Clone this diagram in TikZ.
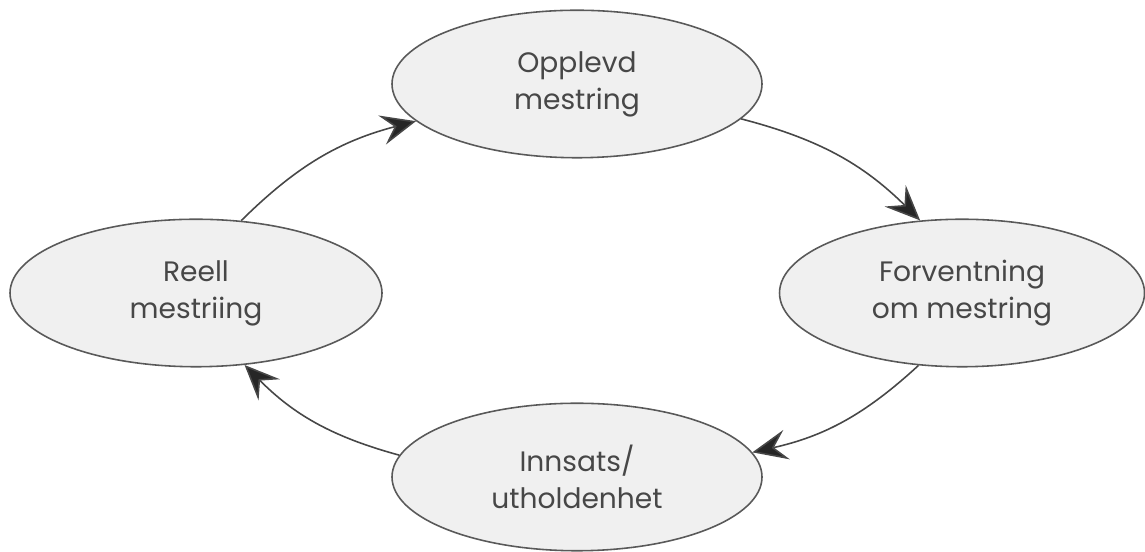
\documentclass[tikz,border=0pt]{standalone}
\usepackage{fontspec}
\setmainfont{Poppins}
\usetikzlibrary{shapes.geometric,arrows.meta}

\begin{document}
\begin{tikzpicture}[
  mestring/.style={ellipse, draw=black!65, line width=0.9pt, fill=black!6,
    inner sep=0pt, minimum width=7.4cm, minimum height=2.95cm,
    align=center, text=black!72, font=\fontsize{16}{21}\selectfont},
  pil/.style={draw=black!72, line width=0.9pt, bend left=15,
    -{Stealth[length=7mm, width=6mm, inset=2.6mm, fill=black!85]}}]

\useasboundingbox (0,0) rectangle (22.9,11.04);

% we draw the four ellipses
\node (opplevd) [mestring] at (11.54,9.36) {Opplevd\\mestring};
\node (forventning) [mestring, minimum width=7.3cm] at (19.24,5.18) {Forventning\\om mestring};
\node (innsats) [mestring] at (11.54,1.5) {Innsats/\\utholdenhet};
\node (reell) [mestring, minimum width=7.44cm] at (3.92,5.18) {Reell\\mestriing};

% we add the arrows round the circle
\draw[pil] (reell.58) to (opplevd.193);
\draw[pil] (opplevd.348) to (forventning.120);
\draw[pil] (forventning.239) to (innsats.8);
\draw[pil] (innsats.173) to (reell.304);

\end{tikzpicture}
\end{document}
